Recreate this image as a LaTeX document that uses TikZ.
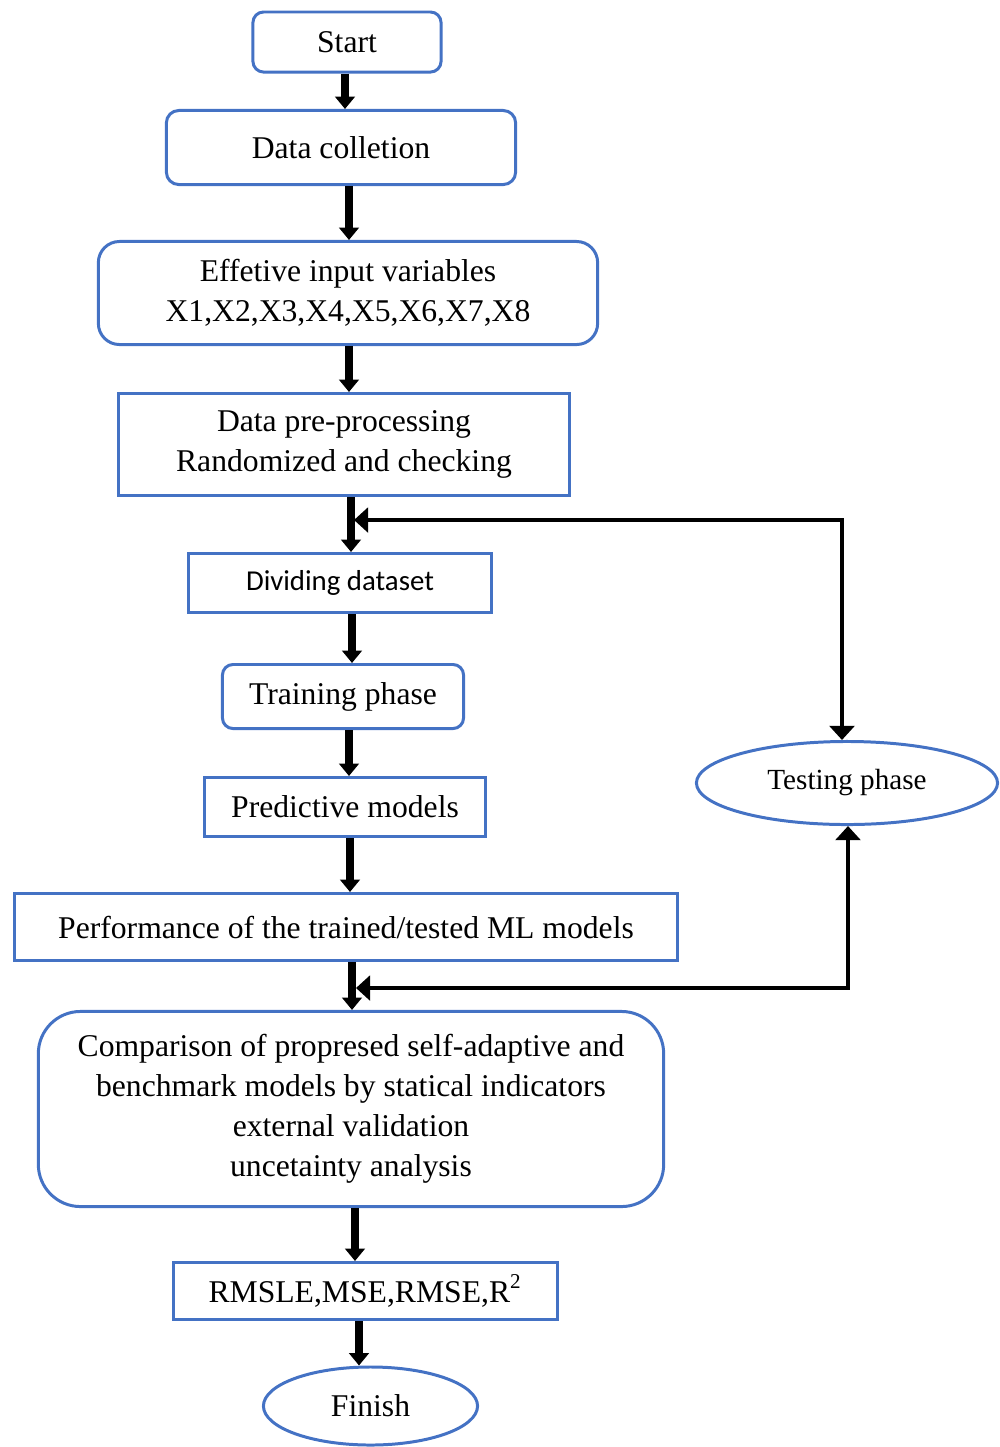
\documentclass[tikz,border=0pt]{standalone}
\usepackage{fontspec}
\setmainfont{Liberation Serif}
\newfontfamily\calib{Carlito}
\usetikzlibrary{arrows.meta,shapes.geometric}
\definecolor{bblue}{HTML}{4472C4}
\begin{document}
\begin{tikzpicture}[x=0.01cm,y=-0.01cm,
  box/.style={draw=bblue, line width=0.85pt, inner sep=0pt, align=center,
    font=\fontsize{9pt}{11.4pt}\selectfont},
  rbox/.style={box, rounded corners=#1},
  ell/.style={box, ellipse},
  arr/.style={line width=2pt, -{Triangle[length=3.5pt,width=5.5pt]}},
  fb/.style={line width=1.4pt, {Triangle[length=4pt,width=7pt]}-{Triangle[length=4pt,width=7pt]}}]
\useasboundingbox (0,0) rectangle (1000,1447);

\node[rbox=3pt, minimum width=1.88cm, minimum height=0.60cm] (start) at (347,42) {Start};
\node[rbox=3.5pt, minimum width=3.49cm, minimum height=0.74cm] (data) at (341,147.5) {Data colletion};
\node[rbox=6pt, minimum width=4.99cm, minimum height=1.03cm] (eff) at (348,293) {Effetive input variables\\X1,X2,X3,X4,X5,X6,X7,X8};
\node[box, minimum width=4.51cm, minimum height=1.02cm] (pre) at (344,444.5) {Data pre-processing\\Randomized and checking};
\node[box, minimum width=3.03cm, minimum height=0.59cm, font=\calib\fontsize{8.2pt}{10pt}\selectfont] (div) at (340,583) {Dividing dataset};
\node[rbox=3pt, minimum width=2.41cm, minimum height=0.64cm] (train) at (343,696.5) {Training phase};
\node[box, minimum width=2.81cm, minimum height=0.59cm] (pred) at (345,807) {Predictive models};
\node[box, minimum width=6.63cm, minimum height=0.67cm] (perf) at (346,927) {Performance of the trained/tested ML models};
\node[rbox=12pt, minimum width=6.25cm, minimum height=1.95cm] (comp) at (351,1109) {Comparison of propresed self-adaptive and\\benchmark models by statical indicators\\external validation\\uncetainty analysis};
\node[box, minimum width=3.84cm, minimum height=0.57cm] (rmse) at (365.5,1291) {RMSLE,MSE,RMSE,R\textsuperscript{2}};
\node[ell, minimum width=2.14cm, minimum height=0.78cm] (fin) at (370.5,1406) {Finish};
\node[ell, minimum width=3.01cm, minimum height=0.83cm, font=\fontsize{8.3pt}{10pt}\selectfont] (test) at (847,783) {Testing phase};

\draw[arr] ([xshift=-0.02cm]start.south) -- ([xshift=-0.02cm]start.south |- data.north);
\draw[arr] ([xshift=0.08cm]data.south) -- ([xshift=0.08cm]data.south |- eff.north);
\draw[arr] ([xshift=0.01cm]eff.south) -- ([xshift=0.01cm]eff.south |- pre.north);
\draw[arr] ([xshift=0.07cm]pre.south) -- ([xshift=0.07cm]pre.south |- div.north);
\draw[arr] ([xshift=0.12cm]div.south) -- ([xshift=0.12cm]div.south |- train.north);
\draw[arr] ([xshift=0.06cm]train.south) -- ([xshift=0.06cm]train.south |- pred.north);
\draw[arr] ([xshift=0.05cm]pred.south) -- ([xshift=0.05cm]pred.south |- perf.north);
\draw[arr] ([xshift=0.06cm]perf.south) -- ([xshift=0.06cm]perf.south |- comp.north);
\draw[arr] ([xshift=0.04cm]comp.south) -- ([xshift=0.04cm]comp.south |- rmse.north);
\draw[arr] ([xshift=-0.065cm]rmse.south) -- ([xshift=-0.065cm]rmse.south |- fin.north);

\coordinate (fb1) at (354,520);
\coordinate (fb2) at (356,988);
\draw[fb] (fb1) -| ([xshift=-0.05cm]test.north);
\draw[fb] (fb2) -| ([xshift=0.01cm]test.south);
\end{tikzpicture}
\end{document}
